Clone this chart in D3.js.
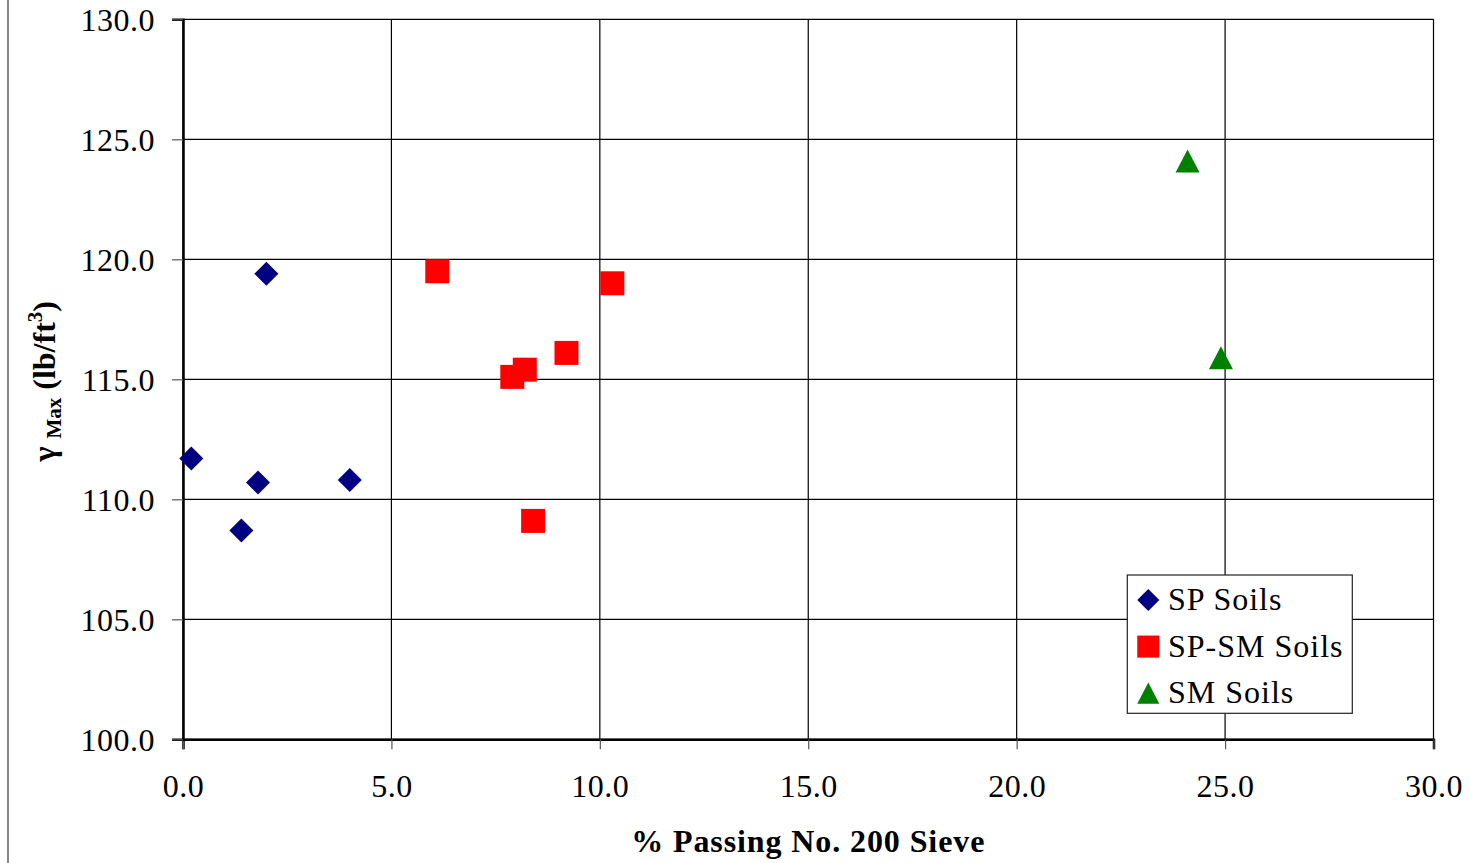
<!DOCTYPE html>
<html>
<head>
<meta charset="utf-8">
<script src="https://cdn.jsdelivr.net/npm/d3@7"></script>
<style>
  html, body { margin: 0; padding: 0; background: #fff; }
  svg text { font-family: "Liberation Serif", "Times New Roman", serif; }
</style>
</head>
<body>
<svg id="chart" width="1470" height="863"></svg>
<script>
// ---- Data ----
const spX = [2.0, 0.2, 1.8, 4.0, 1.4];
const spY = [119.4, 111.7, 110.7, 110.8, 108.7];
const spsmX = [6.1, 10.3, 9.2, 8.2, 7.9, 8.4];
const spsmY = [119.5, 119.0, 116.1, 115.4, 115.1, 109.1];
const smX = [24.1, 24.9];
const smY = [124.1, 115.9];
const xTicks = [0, 5, 10, 15, 20, 25, 30];
const yTicks = [100, 105, 110, 115, 120, 125, 130];
const seriesNames = ["SP Soils", "SP-SM Soils", "SM Soils"];

// ---- Layout ----
const svg = d3.select("#chart");
const L = 183, R = 1433.5, T = 19.3, B = 739.3;
const x = d3.scaleLinear().domain([0, 30]).range([L, R]);
const y = d3.scaleLinear().domain([100, 130]).range([B, T]);

// left frame line
svg.append("line").attr("x1", 8).attr("x2", 8).attr("y1", 0).attr("y2", 863)
  .attr("stroke", "#333").attr("stroke-width", 1.2);

// grid
const g = svg.append("g");
g.selectAll(".hg").data(yTicks).join("line")
  .attr("x1", L).attr("x2", R).attr("y1", d => y(d)).attr("y2", d => y(d))
  .attr("stroke", "#000").attr("stroke-width", 1.2);
g.selectAll(".vg").data(xTicks).join("line")
  .attr("y1", T).attr("y2", B).attr("x1", d => x(d)).attr("x2", d => x(d))
  .attr("stroke", "#000").attr("stroke-width", 1.2);

// axes
const fmt = d3.format(".1f");
const xAxis = svg.append("g").attr("transform", `translate(0,${B})`)
  .call(d3.axisBottom(x).tickValues(xTicks).tickFormat(fmt).tickSize(10).tickPadding(22));
const yAxis = svg.append("g").attr("transform", `translate(${L},0)`)
  .call(d3.axisLeft(y).tickValues(yTicks).tickFormat(fmt).tickSize(11).tickPadding(17));
[xAxis, yAxis].forEach(a => {
  a.select(".domain").attr("stroke", "#000").attr("stroke-width", 2.5);
  a.selectAll(".tick line").attr("stroke", "#555").attr("stroke-width", 1.2);
  a.selectAll(".tick text").attr("font-size", 32).attr("fill", "#000")
    .style("letter-spacing", "0.5px")
    .style("font-family", "'Liberation Serif', serif");
});
xAxis.selectAll(".tick text").attr("y", 58).attr("dy", 0);
yAxis.selectAll(".tick text").attr("dy", "0.34em");

// markers
const diamond = { draw(ctx, s) { const h = 12; ctx.moveTo(0, -h); ctx.lineTo(h, 0); ctx.lineTo(0, h); ctx.lineTo(-h, 0); ctx.closePath(); } };
const square = { draw(ctx, s) { const h = 12; ctx.rect(-h, -h, 2 * h, 2 * h); } };
const tri = { draw(ctx, s) { ctx.moveTo(0, -11.5); ctx.lineTo(12, 11.5); ctx.lineTo(-12, 11.5); ctx.closePath(); } };

const series = [
  { xs: spX, ys: spY, type: diamond, color: "#000080" },
  { xs: spsmX, ys: spsmY, type: square, color: "#FF0000" },
  { xs: smX, ys: smY, type: tri, color: "#008000" }
];
series.forEach(s => {
  svg.append("g").selectAll("path").data(s.xs.map((v, i) => [v, s.ys[i]])).join("path")
    .attr("d", d3.symbol().type(s.type)())
    .attr("transform", d => `translate(${x(d[0])},${y(d[1])})`)
    .attr("fill", s.color);
});

// legend
const lg = svg.append("g");
lg.append("rect").attr("x", 1127.3).attr("y", 575).attr("width", 225).attr("height", 138.3)
  .attr("fill", "#fff").attr("stroke", "#222").attr("stroke-width", 1.2);
series.forEach((s, i) => {
  const cy = 600 + i * 46.6;
  lg.append("path").attr("d", d3.symbol().type(s.type)())
    .attr("transform", `translate(1148.3,${cy}) scale(0.92)`).attr("fill", s.color);
  lg.append("text").attr("x", 1168).attr("y", cy + 10).attr("font-size", 32)
    .style("letter-spacing", "1px")
    .attr("fill", "#000").text(seriesNames[i]);
});

// x title
svg.append("text").attr("x", (L + R) / 2).attr("y", 852).attr("text-anchor", "middle")
  .attr("font-size", 32).attr("font-weight", "bold").style("letter-spacing", "0.9px")
  .text("% Passing No. 200 Sieve");

// y title
const yt = svg.append("text").attr("transform", `translate(55,${(T + B) / 2 + 2}) rotate(-90)`)
  .attr("text-anchor", "middle").attr("font-size", 32).attr("font-weight", "bold");
yt.append("tspan").text("γ ");
yt.append("tspan").attr("font-size", 21).attr("dy", 6).text("Max");
yt.append("tspan").attr("dy", -6).text(" (lb/ft");
yt.append("tspan").attr("font-size", 21).attr("dy", -13).text("3");
yt.append("tspan").attr("dy", 13).text(")");
</script>
</body>
</html>
